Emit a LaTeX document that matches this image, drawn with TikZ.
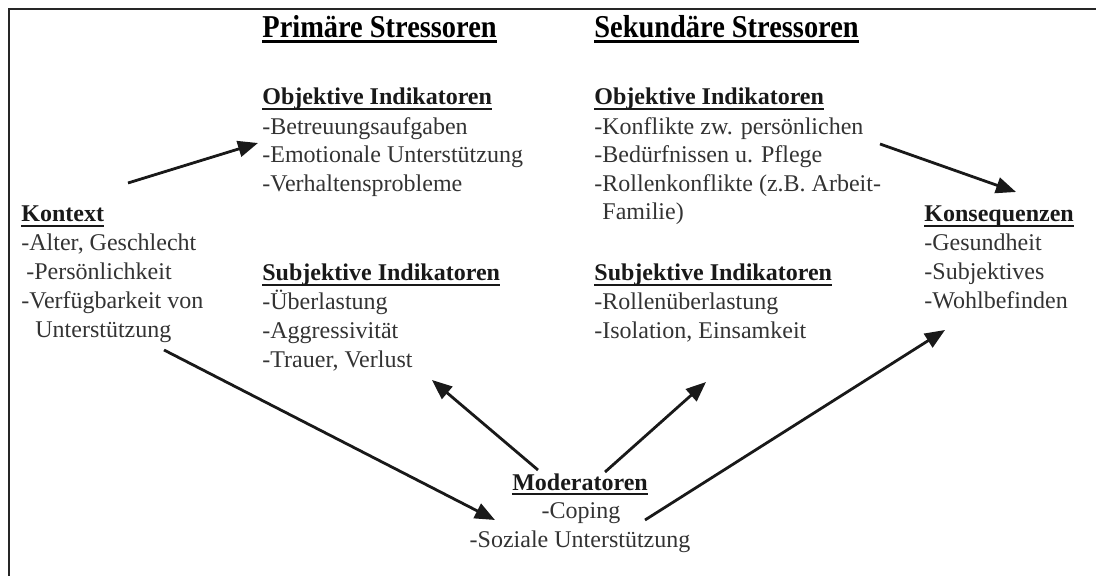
\documentclass[tikz,border=0pt]{standalone}
\usepackage{fontspec}
\setmainfont{Liberation Serif}
\usetikzlibrary{arrows.meta}
\tikzset{
  bodytxt/.style={anchor=base west,inner sep=0pt,text=black!80,font=\fontsize{12}{14.5}\selectfont},
  bodyc/.style={bodytxt,anchor=base},
  subhead/.style={anchor=base west,inner sep=0pt,text=black!90,font=\fontsize{12}{14.5}\selectfont\bfseries},
  subheadc/.style={subhead,anchor=base},
  mainhead/.style={anchor=base west,inner sep=0pt,text=black,font=\fontsize{14.2}{17}\selectfont\bfseries},
  ulthin/.style={line width=1.2pt,black!90},
  ulthick/.style={line width=1.5pt,black},
  arr/.style={line width=1.4pt,black!90,-{Triangle[length=10pt,width=8pt]}},
  frameline/.style={line width=1pt,black!85}
}
\newcommand{\ulnode}[2][ulthin]{\draw[#1] ([yshift=-2pt]#2.base west) -- ([yshift=-2pt]#2.base east);}
\begin{document}
\begin{tikzpicture}[x=0.5pt,y=-0.5pt]
\useasboundingbox (0,0) rectangle (1096,576);
% frame (left and top)
\coordinate (fbl) at (9,576);
\coordinate (ftl) at (9,9);
\coordinate (ftr) at (1096,9);
\draw[frameline] (fbl) -- (ftl) -- (ftr);

% main headers
\node[mainhead] (h1) at (262,38) {\scalebox{1}[1.12]{Primäre Stressoren}};
\node[mainhead] (h2) at (594,38) {\scalebox{1}[1.12]{Sekundäre Stressoren}};
\ulnode[ulthick]{h1}
\ulnode[ulthick]{h2}

% primary objective
\node[subhead] (po) at (262,105) {Objektive Indikatoren};
\ulnode{po}
\node[bodytxt] (po1) at (262,135) {-Betreuungsaufgaben};
\node[bodytxt] (po2) at (262,163) {-Emotionale Unterstützung};
\node[bodytxt] (po3) at (262,192) {-Verhaltensprobleme};

% secondary objective
\node[subhead] (so) at (594,105) {Objektive Indikatoren};
\ulnode{so}
\node[bodytxt] (so1) at (594,135) {-Konflikte zw. persönlichen};
\node[bodytxt] (so2) at (594,163) {-Bedürfnissen u. Pflege};
\node[bodytxt] (so3) at (594,192) {-Rollenkonflikte (z.B. Arbeit-};
\node[bodytxt] (so4) at (602,220) {Familie)};

% primary subjective
\node[subhead] (ps) at (262,281) {Subjektive Indikatoren};
\ulnode{ps}
\node[bodytxt] (ps1) at (262,310) {-Überlastung};
\node[bodytxt] (ps2) at (262,339) {-Aggressivität};
\node[bodytxt] (ps3) at (262,368) {-Trauer, Verlust};

% secondary subjective
\node[subhead] (ss) at (594,281) {Subjektive Indikatoren};
\ulnode{ss}
\node[bodytxt] (ss1) at (594,310) {-Rollenüberlastung};
\node[bodytxt] (ss2) at (594,339) {-Isolation, Einsamkeit};

% Kontext
\node[subhead] (k) at (21,222) {Kontext};
\ulnode{k}
\node[bodytxt] (k1) at (21,251) {-Alter, Geschlecht};
\node[bodytxt] (k2) at (26,280) {-Persönlichkeit};
\node[bodytxt] (k3) at (21,309) {-Verfügbarkeit von};
\node[bodytxt] (k4) at (35,338) {Unterstützung};

% Konsequenzen
\node[subhead] (kn) at (924,222) {Konsequenzen};
\ulnode{kn}
\node[bodytxt] (kn1) at (924,251) {-Gesundheit};
\node[bodytxt] (kn2) at (924,280) {-Subjektives};
\node[bodytxt] (kn3) at (924,309) {-Wohlbefinden};

% Moderatoren
\node[subheadc] (m) at (580,490) {Moderatoren};
\ulnode{m}
\node[bodyc] (m1) at (581,518) {-Coping};
\node[bodyc] (m2) at (580,547) {-Soziale Unterstützung};

% arrow end points
\coordinate (a1s) at (128,183); \coordinate (a1e) at (258,143);
\coordinate (a2s) at (880,144); \coordinate (a2e) at (1016,192);
\coordinate (a3s) at (164,350); \coordinate (a3e) at (495,520);
\coordinate (a4s) at (538,470); \coordinate (a4e) at (432,380);
\coordinate (a5s) at (605,472); \coordinate (a5e) at (706,382);
\coordinate (a6s) at (645,520); \coordinate (a6e) at (945,330);

\draw[arr] (a1s) -- (a1e);
\draw[arr] (a2s) -- (a2e);
\draw[arr] (a3s) -- (a3e);
\draw[arr] (a4s) -- (a4e);
\draw[arr] (a5s) -- (a5e);
\draw[arr] (a6s) -- (a6e);
\end{tikzpicture}
\end{document}
